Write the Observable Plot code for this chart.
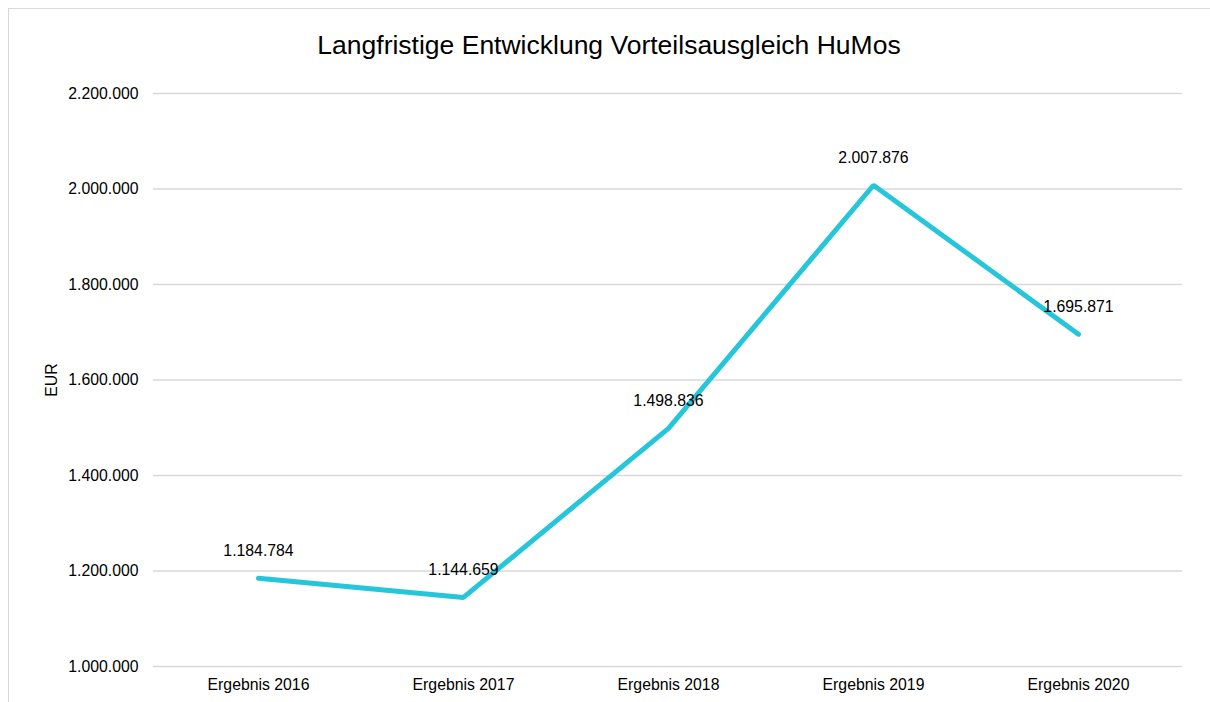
<!DOCTYPE html>
<html>
<head>
<meta charset="utf-8">
<script src="https://cdn.jsdelivr.net/npm/d3@7"></script>
<script src="https://cdn.jsdelivr.net/npm/@observablehq/plot@0.6"></script>
<style>
  html, body { margin: 0; padding: 0; background: #fff; }
  #wrap { position: relative; width: 1210px; height: 702px; overflow: hidden; font-family: "Liberation Sans", Arial, Helvetica, sans-serif; }
  #frame { position: absolute; left: 8px; top: 8px; width: 1220px; height: 720px; border: 1.5px solid #d9d9d9; box-sizing: border-box; pointer-events: none; }
  #title { position: relative; height: 70px; box-sizing: border-box; padding-top: 30px; line-height: 30px; text-align: center; font-size: 26.5px; color: #000; padding-left: 8px; }
  #chart { position: relative; }
  #chart svg { display: block; }
</style>
</head>
<body>
<div id="wrap">
  <div id="frame"></div>
  <div id="title">Langfristige Entwicklung Vorteilsausgleich HuMos</div>
  <div id="chart"></div>
</div>
<script>
const categories = ["Ergebnis 2016", "Ergebnis 2017", "Ergebnis 2018", "Ergebnis 2019", "Ergebnis 2020"];
const values = [1184784, 1144659, 1498836, 2007876, 1695871];
const yTicks = [1000000, 1200000, 1400000, 1600000, 1800000, 2000000, 2200000];
const yLabel = "EUR";

const data = categories.map((c, i) => ({category: c, value: values[i]}));
const de = d3.formatLocale({decimal: ",", thousands: ".", grouping: [3], currency: ["", " €"]});
const fmt = de.format(",d");

const chart = Plot.plot({
  width: 1210,
  height: 632,
  marginTop: 23,
  marginBottom: 36,
  marginLeft: 153,
  marginRight: 28,
  style: {fontFamily: "'Liberation Sans', Arial, Helvetica, sans-serif", fontSize: "15.8px", color: "#000", background: "transparent"},
  x: {type: "point", domain: categories, padding: 0.5, label: null, tickSize: 0, tickPadding: 12},
  y: {domain: [1000000, 2200000], ticks: yTicks, tickFormat: fmt, tickSize: 0, tickPadding: 15,
      label: yLabel, labelAnchor: "center", labelArrow: "none", labelOffset: 108},
  marks: [
    Plot.gridY(yTicks, {stroke: "#d9d9d9", strokeOpacity: 1, strokeWidth: 1.5}),
    Plot.line(data, {x: "category", y: "value", stroke: "#26c6da", strokeWidth: 5, strokeLinecap: "round", strokeLinejoin: "miter"}),
    Plot.text(data, {x: "category", y: "value", text: d => fmt(d.value), dy: -27, fill: "#000", fontSize: 15.8})
  ]
});
document.getElementById("chart").appendChild(chart);
</script>
</body>
</html>
